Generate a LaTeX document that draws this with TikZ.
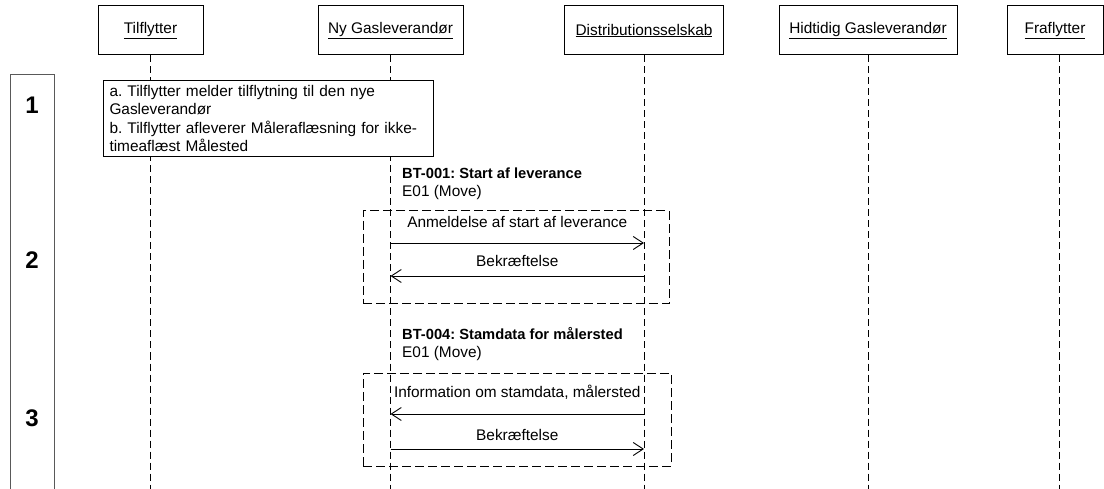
\documentclass[tikz,border=0pt]{standalone}
\usepackage{fontspec}
\setmainfont{Liberation Sans}
\usepackage{tikz}
\usetikzlibrary{arrows.meta,
                positioning,
                calc}
\frenchspacing
\newcommand{\seqfont}{\fontsize{15.4}{18.5}\selectfont}
\newcommand{\btfont}{\fontsize{14.7}{18.5}\selectfont\bfseries}
\tikzset{actor/.style = {draw,
                     line width=1pt,
                     fill=white,
                     minimum height=49pt,
                     inner sep=0pt,
                     font=\seqfont
                    },
         lifeline/.style = {
                     draw,
                     line width=0.9pt,
                     dash pattern=on 7pt off 4pt
         },
         notebox/.style = {
                     draw,
                     line width=1pt,
                     fill=white,
                     anchor=north west,
                     align=left,
                     text width=318pt,
                     inner xsep=6pt,
                     inner ysep=2pt,
                     minimum height=76pt,
                     font=\seqfont
         },
         msgframe/.style = {
                     draw,
                     line width=1pt,
                     dash pattern=on 9pt off 4pt
         },
         msg/.style = {
                     draw,
                     line width=0.9pt,
                     ->,
                     >={Straight Barb[length=10pt,width=13pt]}
         },
         msglabel/.style = {
                     midway,
                     inner sep=0pt,
                     font=\seqfont
         },
         bttext/.style = {
                     anchor=west,
                     align=left,
                     inner sep=0pt,
                     font=\seqfont
         },
         stepnr/.style = {
                     font=\fontsize{24}{24}\selectfont\bfseries
         }
        }

\begin{document}
\begin{tikzpicture}[x=1pt,y=-1pt]
        \useasboundingbox (0,0) rectangle (1104,489);

        \node[actor,minimum width=105pt] (tilflytter) at (150.5,30.5) {\underline{Tilflytter}};
        \node[actor,minimum width=145pt] (nygas) at (390.5,30.5) {\underline{Ny Gasleverandør}};
        \node[actor,minimum width=159pt] (distribution) at (644,30.5) {\underline{Distributionsselskab}};
        \node[actor,minimum width=178pt] (hidtidig) at (868,30.5) {\underline{Hidtidig Gasleverandør}};
        \node[actor,minimum width=96pt] (fraflytter) at (1055,30.5) {\underline{Fraflytter}};

        \coordinate (tilflytter-end) at (tilflytter.south |- 0,489);
        \coordinate (nygas-end) at (nygas.south |- 0,489);
        \coordinate (distribution-end) at (distribution.south |- 0,489);
        \coordinate (hidtidig-end) at (hidtidig.south |- 0,489);
        \coordinate (fraflytter-top) at ([xshift=4pt]fraflytter.south);
        \coordinate (fraflytter-end) at (fraflytter-top |- 0,489);

        \path[lifeline] (tilflytter.south) -- (tilflytter-end);
        \path[lifeline] (nygas.south) -- (nygas-end);
        \path[lifeline] (distribution.south) -- (distribution-end);
        \path[lifeline] (hidtidig.south) -- (hidtidig-end);
        \path[lifeline] (fraflytter-top) -- (fraflytter-end);

        \path[draw,line width=1pt,black!65] (10,495) |- (54,75) -- (54,495);
        \node[stepnr] (step1) at (32,105) {1};
        \node[stepnr] (step2) at (32,260) {2};
        \node[stepnr] (step3) at (32,418) {3};

        \node[notebox] (flytning) at (103,80) {a. Tilflytter melder tilflytning til den nye\\
            Gasleverandør\\
            b. Tilflytter afleverer Måleraflæsning for ikke-\\
            timeaflæst Målested};

        \node[bttext] (bt001) at (402,184) {{\btfont BT-001: Start af leverance}\\E01 (Move)};
        \node[msgframe,minimum width=306pt,minimum height=93pt] (frame2) at (516,257.5) {};
        \coordinate (nygas-m1) at (nygas.south |- 0,243);
        \coordinate (distribution-m1) at (distribution.south |- 0,243);
        \coordinate (nygas-m2) at (nygas.south |- 0,276);
        \coordinate (distribution-m2) at (distribution.south |- 0,276);
        \path[msg] (nygas-m1) -- node[msglabel,yshift=21pt] {Anmeldelse af start af leverance} (distribution-m1);
        \path[msg] (distribution-m2) -- node[msglabel,yshift=15pt] {Bekræftelse} (nygas-m2);

        \node[bttext] (bt004) at (402,344) {{\btfont BT-004: Stamdata for målersted}\\E01 (Move)};
        \node[msgframe,minimum width=308pt,minimum height=93pt] (frame3) at (517,419.5) {};
        \coordinate (nygas-m3) at (nygas.south |- 0,414);
        \coordinate (distribution-m3) at (distribution.south |- 0,414);
        \coordinate (nygas-m4) at (nygas.south |- 0,449);
        \coordinate (distribution-m4) at (distribution.south |- 0,449);
        \path[msg] (distribution-m3) -- node[msglabel,yshift=22pt] {Information om stamdata, målersted} (nygas-m3);
        \path[msg] (nygas-m4) -- node[msglabel,yshift=14pt] {Bekræftelse} (distribution-m4);
    \end{tikzpicture}
\end{document}
